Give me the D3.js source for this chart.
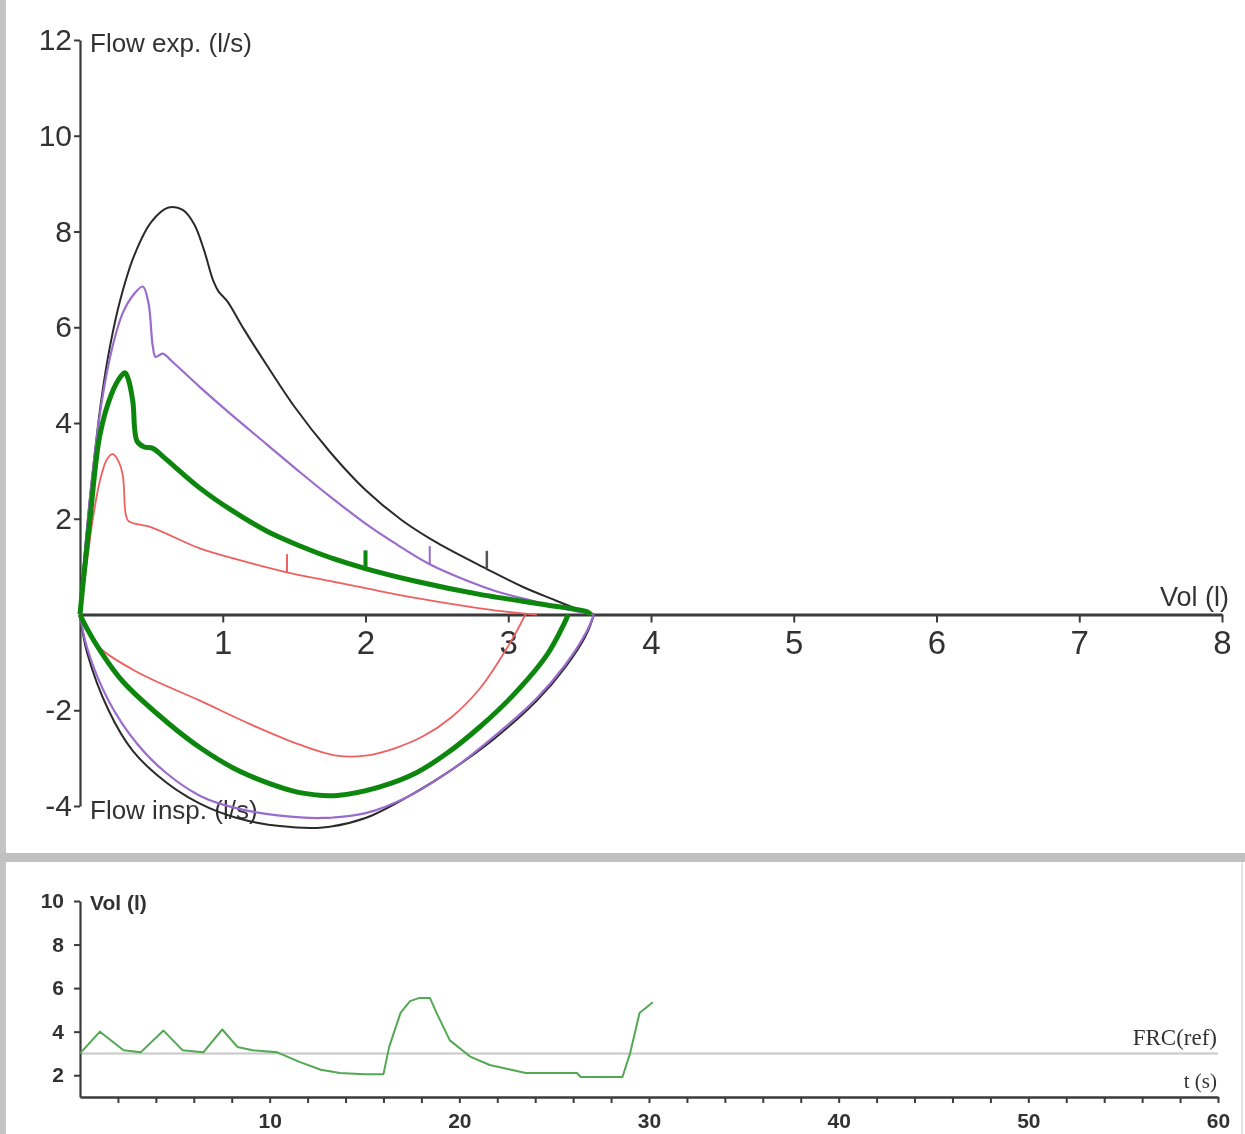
<!DOCTYPE html>
<html lang="en">
<head>
<meta charset="utf-8">
<title>Flow-volume loops</title>
<script src="https://d3js.org/d3.v7.min.js"></script>
<style>
  body { margin: 0; background: #fff; }
  svg { display: block; }
  .axis path, .axis line { stroke: #3a3a3a; }
  .up text { font-family: "Liberation Sans", Arial, sans-serif; fill: #333; }
  .low text { font-family: "Liberation Sans", Arial, sans-serif; font-weight: bold; fill: #333; }
</style>
</head>
<body>
<div id="chart"></div>
<script>

// flow-volume loops, [volume (l), flow (l/s)]
var blackExp = [[0,0],[0.04,1.5],[0.09,3.0],[0.15,4.5],[0.21,5.6],[0.28,6.55],[0.38,7.5],[0.5,8.2],[0.62,8.5],
  [0.72,8.45],[0.8,8.15],[0.87,7.6],[0.93,7.0],[0.97,6.75],[1.03,6.55],[1.15,5.95],[1.31,5.2],[1.5,4.35],
  [1.75,3.4],[2.0,2.6],[2.25,1.98],[2.5,1.5],[2.85,0.95],[3.1,0.58],[3.31,0.32],[3.48,0.12],[3.6,0]];
var blackInsp = [[0,0],[0.05,-0.8],[0.2,-2.0],[0.37,-2.85],[0.6,-3.5],[0.84,-3.95],[1.1,-4.25],[1.4,-4.42],
  [1.7,-4.45],[2.0,-4.25],[2.3,-3.8],[2.6,-3.25],[2.9,-2.6],[3.2,-1.8],[3.4,-1.1],[3.55,-0.4],[3.6,0]];

var purpleExp = [[0,0],[0.04,1.5],[0.09,3.0],[0.15,4.4],[0.22,5.5],[0.3,6.3],[0.38,6.7],[0.44,6.85],[0.48,6.5],
  [0.51,5.6],[0.53,5.38],[0.58,5.45],[0.64,5.3],[0.84,4.75],[1.05,4.2],[1.31,3.55],[1.55,2.95],[1.77,2.42],
  [2.0,1.9],[2.2,1.5],[2.45,1.05],[2.7,0.72],[2.92,0.48],[3.15,0.3],[3.35,0.15],[3.6,0]];
var purpleInsp = [[0,0],[0.05,-0.7],[0.2,-1.8],[0.4,-2.7],[0.6,-3.3],[0.85,-3.8],[1.1,-4.05],[1.4,-4.2],
  [1.7,-4.25],[2.0,-4.15],[2.3,-3.8],[2.6,-3.25],[2.9,-2.55],[3.2,-1.75],[3.4,-1.05],[3.55,-0.35],[3.6,0]];

var redExp = [[0,0],[0.04,0.9],[0.09,2.0],[0.14,2.8],[0.19,3.25],[0.23,3.35],[0.27,3.2],[0.3,2.9],[0.32,2.1],
  [0.34,1.95],[0.5,1.82],[0.84,1.38],[1.1,1.15],[1.45,0.88],[1.75,0.7],[2.0,0.55],[2.36,0.34],[2.8,0.13],
  [3.05,0.04],[3.2,0]];
var redInsp = [[0,0],[0.05,-0.3],[0.14,-0.7],[0.4,-1.2],[0.84,-1.8],[1.2,-2.3],[1.54,-2.72],[1.8,-2.95],
  [2.0,-2.95],[2.2,-2.8],[2.4,-2.55],[2.6,-2.15],[2.8,-1.55],[2.95,-0.9],[3.05,-0.4],[3.12,0]];

var greenExp = [[0,0],[0.03,0.9],[0.07,2.0],[0.14,3.76],[0.22,4.6],[0.28,4.95],[0.315,5.05],[0.34,4.9],
  [0.37,4.45],[0.4,3.62],[0.45,3.5],[0.51,3.47],[0.6,3.25],[0.84,2.64],[1.05,2.2],[1.31,1.74],[1.55,1.42],
  [1.77,1.17],[2.0,0.96],[2.36,0.69],[2.8,0.42],[3.27,0.2],[3.55,0.06],[3.58,0]];
var greenInsp = [[0,0],[0.05,-0.3],[0.14,-0.75],[0.3,-1.4],[0.61,-2.25],[0.85,-2.8],[1.07,-3.2],[1.3,-3.5],
  [1.54,-3.72],[1.8,-3.78],[2.1,-3.6],[2.36,-3.3],[2.57,-2.9],[2.8,-2.35],[3.03,-1.7],[3.27,-0.85],
  [3.39,-0.2],[3.42,0]];

// small markers on the expiratory curves (vol, flow)
var markVol = [1.45, 2.0, 2.45, 2.85];
var markFlow = [0.88, 0.96, 1.05, 0.95];

// volume vs time trace
var timeS = [0,1.05,2.3,3.2,4.4,5.4,6.5,7.5,8.3,9.1,10.4,11.6,12.7,13.7,15.0,16.0,16.3,16.9,17.4,17.9,
  18.45,18.8,19.5,20.6,21.6,23.5,26.2,26.4,28.6,29.0,29.5,30.2];
var volL = [3.0,4.0,3.15,3.05,4.05,3.15,3.05,4.1,3.3,3.15,3.05,2.6,2.25,2.1,2.05,2.05,3.3,4.86,5.4,5.55,
  5.55,4.86,3.6,2.84,2.47,2.1,2.1,1.92,1.92,3.0,4.86,5.35];
var frcRef = 3.0;

var volTicks = [1,2,3,4,5,6,7,8];
var flowTicks = [-4,-2,2,4,6,8,10,12];
var lowYTicks = [2,4,6,8,10];
var lowXLabels = [10,20,30,40,50,60];

var W = 1245, H = 1134;

var svg = d3.select("#chart").append("svg")
  .attr("width", W).attr("height", H);

var defs = svg.append("defs");
defs.append("filter").attr("id", "soft")
  .append("feGaussianBlur").attr("stdDeviation", 0.6);

// frame
svg.append("rect").attr("x", 0).attr("y", 0).attr("width", 6).attr("height", H).attr("fill", "#c4c4c4");
svg.append("rect").attr("x", 0).attr("y", 853).attr("width", W).attr("height", 9).attr("fill", "#c0c0c0");
svg.append("rect").attr("x", 1241).attr("y", 862).attr("width", 2).attr("height", H - 862).attr("fill", "#e4e4e4");

var g = svg.append("g").attr("filter", "url(#soft)");

// ---------- upper chart ----------
var x = d3.scaleLinear().domain([0, 8]).range([80, 1222]);
var y = d3.scaleLinear().domain([-4, 12]).range([806, 40]);

var up = g.append("g").attr("class", "up");

var yAx = up.append("g").attr("class", "axis")
  .attr("transform", "translate(" + x(0) + ",0)")
  .call(d3.axisLeft(y).tickValues(flowTicks).tickSize(6).tickSizeOuter(0).tickPadding(2)
    .tickFormat(function(d) { return String(d); }));
yAx.selectAll("text").style("font-size", "30px");
yAx.select(".domain").attr("stroke-width", 2.2);
yAx.selectAll(".tick line").attr("stroke-width", 2);

var xAx = up.append("g").attr("class", "axis")
  .attr("transform", "translate(0," + y(0) + ")")
  .call(d3.axisBottom(x).tickValues(volTicks).tickSize(8).tickSizeOuter(0).tickPadding(8));
xAx.selectAll("text").style("font-size", "33px");
xAx.select(".domain").attr("stroke-width", 3).attr("stroke", "#555");
xAx.selectAll(".tick line").attr("stroke-width", 2);

up.append("text").attr("x", 90).attr("y", 52).style("font-size", "26px").text("Flow exp. (l/s)");
up.append("text").attr("x", 90).attr("y", 819).style("font-size", "26px").text("Flow insp. (l/s)");
up.append("text").attr("x", 1229).attr("y", 606).attr("text-anchor", "end")
  .style("font-size", "27px").text("Vol (l)");

var line = d3.line()
  .x(function(d) { return x(d[0]); })
  .y(function(d) { return y(d[1]); })
  .curve(d3.curveCatmullRom.alpha(0.5));

var curves = [
  {data: blackInsp, color: "#2a2a2a", w: 2},
  {data: purpleInsp, color: "#9a6ccc", w: 2.2},
  {data: redInsp, color: "#ee6060", w: 1.8},
  {data: greenInsp, color: "#0b860b", w: 5},
  {data: blackExp, color: "#2a2a2a", w: 2},
  {data: purpleExp, color: "#9a6ccc", w: 2.2},
  {data: redExp, color: "#ee6060", w: 1.8},
  {data: greenExp, color: "#0b860b", w: 5}
];

up.selectAll("path.loop")
  .data(curves)
  .enter().append("path")
    .attr("class", "loop")
    .attr("d", function(d) { return line(d.data); })
    .attr("fill", "none")
    .attr("stroke", function(d) { return d.color; })
    .attr("stroke-width", function(d) { return d.w; })
    .attr("stroke-linejoin", "round");

var markColors = ["#ee6060", "#0b860b", "#9a6ccc", "#555"];
var markW = [2, 4, 2, 2.5];
up.selectAll("line.mark")
  .data(markVol)
  .enter().append("line")
    .attr("class", "mark")
    .attr("x1", function(d) { return x(d); })
    .attr("x2", function(d) { return x(d); })
    .attr("y1", function(d, i) { return y(markFlow[i]); })
    .attr("y2", function(d, i) { return y(markFlow[i] + 0.38); })
    .attr("stroke", function(d, i) { return markColors[i]; })
    .attr("stroke-width", function(d, i) { return markW[i]; });

// ---------- lower chart ----------
var x2 = d3.scaleLinear().domain([0, 60]).range([80, 1218]);
var y2 = d3.scaleLinear().domain([1, 10]).range([1097, 901]);

var low = g.append("g").attr("class", "low");

// FRC reference line
low.append("line")
  .attr("x1", x2(0)).attr("x2", x2(60))
  .attr("y1", y2(frcRef)).attr("y2", y2(frcRef))
  .attr("stroke", "#c8c8c8").attr("stroke-width", 2);

var y2Ax = low.append("g").attr("class", "axis")
  .attr("transform", "translate(" + x2(0) + ",0)")
  .call(d3.axisLeft(y2).tickValues(lowYTicks).tickSize(6).tickSizeOuter(0).tickPadding(10));
y2Ax.selectAll("text").style("font-size", "21px");
y2Ax.select(".domain").attr("stroke-width", 2.2);
y2Ax.selectAll(".tick line").attr("stroke-width", 2);

var x2Ax = low.append("g").attr("class", "axis")
  .attr("transform", "translate(0," + y2(1) + ")")
  .call(d3.axisBottom(x2).tickValues(d3.range(2, 61, 2)).tickSize(6).tickSizeOuter(0).tickPadding(10)
    .tickFormat(function(d) { return lowXLabels.indexOf(d) >= 0 ? d : ""; }));
x2Ax.selectAll("text").style("font-size", "21px");
x2Ax.select(".domain").attr("stroke-width", 2.5);
x2Ax.selectAll(".tick line").attr("stroke-width", 2);

low.append("text").attr("x", 90).attr("y", 910).style("font-size", "21px").text("Vol (l)");
low.append("text").attr("x", 1217).attr("y", 1045).attr("text-anchor", "end")
  .style("font-family", "'Liberation Serif', serif").style("font-weight", "normal")
  .style("font-size", "23px").text("FRC(ref)");
low.append("text").attr("x", 1217).attr("y", 1088).attr("text-anchor", "end")
  .style("font-family", "'Liberation Serif', serif").style("font-weight", "normal")
  .style("font-size", "21px").text("t (s)");

var volLine = d3.line()
  .x(function(d, i) { return x2(timeS[i]); })
  .y(function(d) { return y2(d); });

low.append("path")
  .attr("d", volLine(volL))
  .attr("fill", "none")
  .attr("stroke", "#52a852")
  .attr("stroke-width", 2)
  .attr("stroke-linejoin", "round");

</script>
</body>
</html>
